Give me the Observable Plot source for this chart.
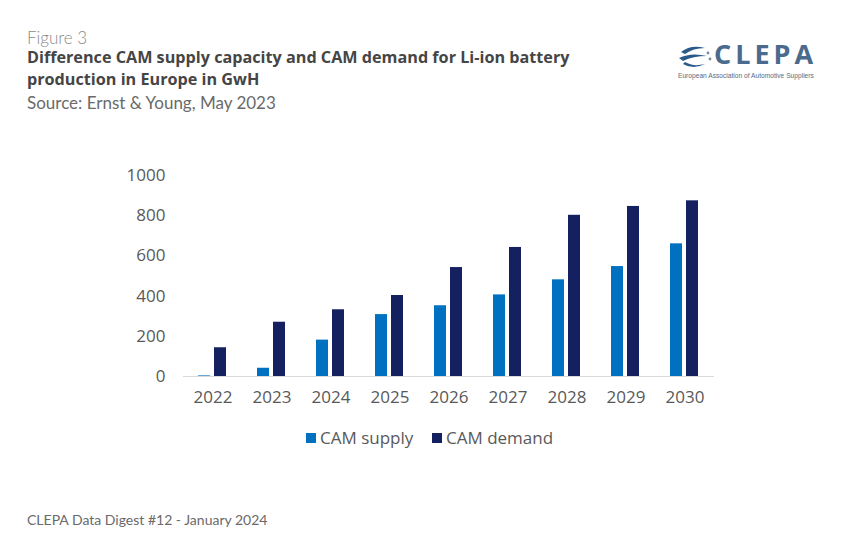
<!DOCTYPE html>
<html>
<head>
<meta charset="utf-8">
<script src="https://cdn.jsdelivr.net/npm/d3@7"></script>
<script src="https://cdn.jsdelivr.net/npm/@observablehq/plot@0.6"></script>
<style>
  html, body { margin: 0; padding: 0; background: #fff; }
  #page { position: relative; width: 850px; height: 549px; overflow: hidden; font-family: Lato, "Open Sans", sans-serif; }
  .abs { position: absolute; white-space: nowrap; }
  #fig { left: 27px; top: 27px; font-size: 17px; color: #8a8a8a; font-weight: 300; }
  #title { left: 27px; top: 46px; font-size: 16.2px; color: #454545; font-weight: 700; line-height: 22px; font-family: "Open Sans", Lato, sans-serif; }
  #source { left: 27px; top: 92px; font-size: 17px; color: #6a6a6a; font-weight: 400; }
  #footer { left: 27px; top: 511px; font-size: 14px; color: #6a6a6a; }
  #chart { left: 0; top: 150px; }
  #legend { left: 0; top: 426px; width: 850px; font-family: "Open Sans", Lato, sans-serif; }
  .lg { position: absolute; font-size: 17px; color: #595959; }
  .sw { display: inline-block; width: 10px; height: 10px; margin-right: 4px; vertical-align: 1px; }
  #logo { left: 677px; top: 40px; width: 150px; height: 45px; }
  #logo .name { position: absolute; left: 37px; top: 0px; font-size: 27px; line-height: 28px; font-weight: 700; letter-spacing: 4px; color: #4a6a8e; font-family: "Open Sans", Lato, sans-serif; }
  #logo .sub { position: absolute; left: 1px; top: 31px; font-size: 8px; line-height: 9px; color: #5a6a80; font-family: "Liberation Sans", sans-serif; transform: scaleX(0.83); transform-origin: 0 0; }
</style>
</head>
<body>
<div id="page">
  <div class="abs" id="fig">Figure 3</div>
  <div class="abs" id="title">Difference CAM supply capacity and CAM demand for Li-ion battery<br>production in Europe in GwH</div>
  <div class="abs" id="source">Source: Ernst &amp; Young, May 2023</div>
  <div class="abs" id="logo">
    <svg width="36" height="30" style="position:absolute;left:0;top:2px">
      <path d="M4 10 Q14 2 28 6 Q16 6 8 12 Z" fill="#2a5a8a"/>
      <path d="M2 16 Q14 10 30 14 Q16 14 6 19 Z" fill="#2a5a8a"/>
      <path d="M6 22 Q16 28 28 22 Q16 25 8 20 Z" fill="#2a5a8a"/>
      <circle cx="31" cy="11" r="1.4" fill="#7a8aa0"/>
      <circle cx="33" cy="17" r="1.4" fill="#7a8aa0"/>
    </svg>
    <div class="name">CLEPA</div>
    <div class="sub">European Association of Automotive Suppliers</div>
  </div>
  <div class="abs" id="chart"></div>
  <div class="abs" id="legend"></div>
  <div class="abs" id="footer">CLEPA Data Digest #12 - January 2024</div>
</div>
<script>
const years = ["2022", "2023", "2024", "2025", "2026", "2027", "2028", "2029", "2030"];
const supply = [3, 41, 181, 308, 352, 406, 481, 547, 660];
const demand = [143, 270, 332, 403, 542, 642, 802, 846, 874];
const seriesNames = ["CAM supply", "CAM demand"];
const seriesColors = ["#0070C0", "#14205F"];
const yTicks = [0, 200, 400, 600, 800, 1000];

const data = years.flatMap((y, i) => [
  {year: y, series: seriesNames[0], value: supply[i]},
  {year: y, series: seriesNames[1], value: demand[i]}
]);

const chart = Plot.plot({
  width: 850,
  height: 270,
  marginLeft: 183,
  marginRight: 136,
  marginTop: 25,
  marginBottom: 44,
  style: {fontFamily: "'Open Sans', Lato, sans-serif", fontSize: "17px", color: "#595959", background: "transparent"},
  fx: {domain: years, padding: 0, label: null, tickSize: 0, tickPadding: 14},
  x: {domain: seriesNames, axis: null, paddingInner: 0.235, paddingOuter: 0.853},
  y: {domain: [0, 1000], ticks: yTicks, tickFormat: d => String(d), tickSize: 0, tickPadding: 18, label: null},
  color: {domain: seriesNames, range: seriesColors},
  marks: [
    Plot.ruleY([0], {stroke: "#d9d9d9", strokeWidth: 1.2}),
    Plot.barY(data, {fx: "year", x: "series", y: "value", fill: "series"})
  ]
});
document.getElementById("chart").appendChild(chart);

const legend = document.getElementById("legend");
const legendX = [306, 432];
seriesNames.forEach((s, i) => {
  const d = document.createElement("div");
  d.className = "lg";
  d.style.left = legendX[i] + "px";
  d.innerHTML = `<span class="sw" style="background:${seriesColors[i]}"></span>${s}`;
  legend.appendChild(d);
});
</script>
</body>
</html>
